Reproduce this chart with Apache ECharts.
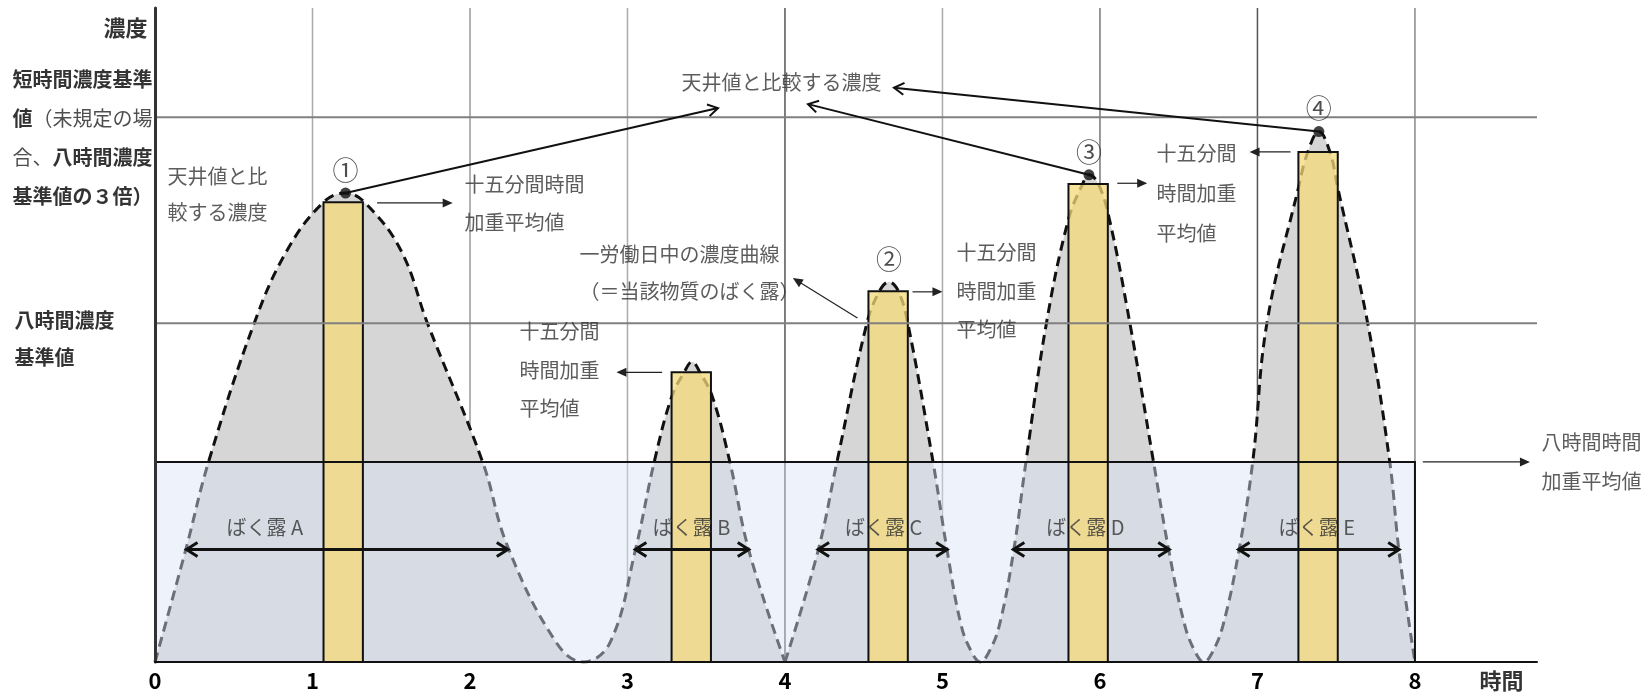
<!DOCTYPE html>
<html>
<head>
<meta charset="utf-8">
<script src="https://cdn.jsdelivr.net/npm/echarts@6/dist/echarts.min.js"></script>
<style>
  html, body { margin: 0; background: #fff; }
  #chart { width: 1651px; height: 694px; }
</style>
</head>
<body>
<div id="chart"></div>
<script>
const FONT = '"Noto Sans CJK JP", "Noto Sans", sans-serif';

// 時間軸（時間）
const hourMax = 8;
const axisEnd = 8.775;
const gridHours = [1, 2, 3, 4, 5, 6, 7, 8];

// 一労働日中の濃度曲線（縦は 0-100 の相対値、図から読み取り）
const curveX = [0, 0.20, 0.34, 0.63, 0.84, 1.07, 1.21, 1.33, 1.56, 1.73,
  2.08, 2.24, 2.55, 2.72, 2.89, 3.05, 3.17, 3.28, 3.36, 3.41,
  3.46, 3.54, 3.65, 3.77, 4.00, 4.21, 4.33, 4.52, 4.60, 4.66,
  4.72, 4.78, 4.94, 5.03, 5.12, 5.19, 5.24, 5.29, 5.36, 5.45,
  5.53, 5.66, 5.80, 5.89, 5.93, 5.99, 6.06, 6.19, 6.34, 6.44,
  6.54, 6.61, 6.66, 6.71, 6.78, 6.88, 6.97, 7.06, 7.26, 7.32,
  7.39, 7.46, 7.51, 7.70, 7.84, 7.90, 8.00];
const curveY = [0, 17.6, 30.6, 51.8, 63, 70.3, 71.7, 70.3, 63, 51.8,
  30.6, 17.6, 2.9, 0, 3, 17.1, 30.6, 40.5, 44.3, 45.9,
  44.3, 40.5, 30.6, 17.1, 0, 17, 30.6, 51.8, 56.7, 58.1,
  56.7, 51.8, 30.6, 17, 5.5, 1.3, 0, 1.3, 5.5, 16.7,
  30.6, 51.8, 67.7, 73.1, 74.5, 73.1, 67.7, 51.8, 30.6, 16.7,
  5.5, 1.3, 0, 1.3, 5.5, 16.7, 30.6, 51.8, 72.5, 78.0,
  81.1, 78.0, 72.5, 51.8, 30.6, 16.7, 0];

// 十五分間時間加重平均値
const barStart = [1.07, 3.28, 4.53, 5.80, 7.26];
const barTop = [70.3, 44.3, 56.7, 73.1, 78.0];
const barSpan = 0.25;

// 基準値・八時間時間加重平均値
const twa8h = 30.6;
const limit8h = 51.8;
const limitShort = 83.3;

// ピーク
const peakX = [1.21, 4.66, 5.93, 7.39];
const peakY = [71.7, 58.1, 74.5, 81.1];
const peakTag = ['①', '②', '③', '④'];
const peakDot = [true, false, true, true];

// ばく露
const exposureName = ['ばく露 A', 'ばく露 B', 'ばく露 C', 'ばく露 D', 'ばく露 E'];
const exposureFrom = [0.20, 3.05, 4.21, 5.45, 6.88];
const exposureTo = [2.24, 3.77, 5.03, 6.44, 7.90];
const exposureLabelX = [0.70, 3.41, 4.63, 5.91, 7.38];
const exposureLevel = 17.2;

// 注記の矢印（始点 x, y → 終点 x, y）
const noteArrows = [
  [1.41, 70.2, 1.89, 70.2],
  [3.22, 44.3, 2.93, 44.3],
  [4.46, 52.6, 4.05, 58.7],
  [4.81, 56.6, 5.00, 56.6],
  [6.11, 73.2, 6.30, 73.2],
  [7.21, 78.0, 6.95, 78.0],
  [8.05, 30.6, 8.73, 30.6]
];
const ceilingHeads = [[3.575, 84.7], [4.146, 85.3], [4.692, 87.8]];

const chart = echarts.init(document.getElementById('chart'));

const points = curveX.map((x, i) => [x, curveY[i]]);
const split = curveX.indexOf(4);
const curveParts = [points.slice(0, split + 1), points.slice(split)];

function headPoints(tip, from, len, half) {
  const dx = tip[0] - from[0], dy = tip[1] - from[1];
  const d = Math.sqrt(dx * dx + dy * dy) || 1;
  const ux = dx / d, uy = dy / d;
  const bx = tip[0] - ux * len, by = tip[1] - uy * len;
  return {
    wings: [[bx - uy * half, by + ux * half], tip, [bx + uy * half, by - ux * half]],
    back: [tip[0] - ux * len * 0.8, tip[1] - uy * len * 0.8]
  };
}

function arrowSeries(segs, opt) {
  return {
    type: 'custom',
    z: opt.z,
    silent: true,
    clip: false,
    data: segs,
    renderItem: (params, api) => {
      const a = api.coord([api.value(0), api.value(1)]);
      const b = api.coord([api.value(2), api.value(3)]);
      const children = [];
      let s = a, e = b;
      const ends = opt.both ? [[b, a, 'e'], [a, b, 's']] : [[b, a, 'e']];
      ends.forEach(([tip, from, which]) => {
        const h = headPoints(tip, from, opt.len, opt.half);
        if (opt.fill) {
          children.push({ type: 'polygon', shape: { points: h.wings }, style: { fill: opt.color } });
          if (which === 'e') e = h.back; else s = h.back;
        } else {
          children.push({
            type: 'polyline', shape: { points: h.wings },
            style: { stroke: opt.color, lineWidth: opt.width, fill: null, lineJoin: 'miter' }
          });
        }
      });
      children.unshift({
        type: 'line', shape: { x1: s[0], y1: s[1], x2: e[0], y2: e[1] },
        style: { stroke: opt.color, lineWidth: opt.width }
      });
      return { type: 'group', children };
    }
  };
}

const gridColors = ['#aaa', '#999', '#aaa', '#555', '#aaa', '#777', '#555', '#888'];

const textBase = { fontFamily: FONT, fontSize: 20, color: '#333' };

function note(text, x, y, lh, extra) {
  return {
    name: text,
    value: [x, y],
    label: Object.assign({
      position: [0, 0], align: 'left', verticalAlign: 'top', lineHeight: lh
    }, textBase, extra || {})
  };
}

const notes = [
  note('天井値と比\n較する濃度', 0.083, 76.9, 36),
  note('十五分間時間\n加重平均値', 1.968, 75.8, 38),
  note('天井値と比較する濃度', 3.346, 91.4, 38),
  note('一労働日中の濃度曲線\n（＝当該物質のばく露）', 2.698, 65.06, 37),
  note('十五分間\n時間加重\n平均値', 2.317, 53.36, 38.5),
  note('十五分間\n時間加重\n平均値', 5.092, 65.44, 38.5),
  note('十五分間\n時間加重\n平均値', 6.362, 80.7, 40),
  note('八時間時間\n加重平均値', 8.806, 36.5, 39),
  note('{b|短時間濃度基準}\n{b|値}{n|（未規定の場}\n{n|合、}{b|八時間濃度}\n{b|基準値の３倍）}',
    -0.902, 91.97, 39),
  note('八時間濃度\n基準値', -0.889, 55.05, 37, { fontWeight: 'bold', color: '#000' }),
  note('濃度', -0.044, 96.9, 26, { align: 'right', verticalAlign: 'middle', fontWeight: 'bold', fontSize: 22, color: '#000' }),
  note('時間', 8.552, -2.9, 26, { align: 'center', verticalAlign: 'middle', fontWeight: 'bold', fontSize: 22, color: '#000' })
];
exposureName.forEach((n, i) => {
  notes.push(note(n, exposureLabelX[i], exposureLevel + 3.3, 24, { align: 'center', verticalAlign: 'middle' }));
});

const option = {
  animation: false,
  textStyle: { fontFamily: FONT },
  grid: { left: 155, right: 114, top: 8, bottom: 32, containLabel: false, outerBoundsMode: 'none' },
  xAxis: {
    type: 'value', min: 0, max: axisEnd, interval: 1, z: 10,
    axisLine: { show: true, lineStyle: { color: '#111', width: 2 } },
    axisTick: { show: false },
    splitLine: { show: false },
    axisLabel: {
      margin: 8, fontSize: 22, fontWeight: 'bold', color: '#000', fontFamily: FONT,
      formatter: v => (Number.isInteger(v) && v <= hourMax ? String(v) : '')
    }
  },
  yAxis: {
    type: 'value', min: 0, max: 100, z: 10,
    axisLine: { show: true, lineStyle: { color: '#333', width: 3 } },
    axisTick: { show: false },
    axisLabel: { show: false },
    splitLine: { show: false }
  },
  series: [
    {
      type: 'custom', z: 1, silent: true,
      data: gridHours,
      renderItem: (params, api) => {
        const top = api.coord([api.value(0), 100]);
        const bot = api.coord([api.value(0), 0]);
        return {
          type: 'line', shape: { x1: top[0], y1: top[1], x2: bot[0], y2: bot[1] },
          style: { stroke: gridColors[params.dataIndex], lineWidth: 1.5 }
        };
      }
    },
    ...curveParts.map(part => ({
      type: 'line', z: 2, silent: true,
      data: part, smooth: 0.4, symbol: 'none',
      lineStyle: { color: '#111', width: 3, type: [10, 6] },
      areaStyle: { color: '#d6d6d6', opacity: 1 }
    })),
    {
      type: 'custom', z: 3, silent: true,
      data: [[0, hourMax, twa8h]],
      renderItem: (params, api) => {
        const p0 = api.coord([api.value(0), api.value(2)]);
        const p1 = api.coord([api.value(1), 0]);
        return {
          type: 'rect', shape: { x: p0[0], y: p0[1], width: p1[0] - p0[0], height: p1[1] - p0[1] },
          style: { fill: 'rgba(218,227,244,0.45)' }
        };
      }
    },
    {
      type: 'custom', z: 4, silent: true,
      data: barStart.map((x, i) => [x, barTop[i]]),
      renderItem: (params, api) => {
        const p0 = api.coord([api.value(0), api.value(1)]);
        const p1 = api.coord([api.value(0) + barSpan, 0]);
        return {
          type: 'rect', shape: { x: p0[0], y: p0[1], width: p1[0] - p0[0], height: p1[1] - p0[1] },
          style: { fill: 'rgba(246,218,120,0.75)', stroke: '#111', lineWidth: 2 }
        };
      }
    },
    {
      type: 'custom', z: 5, silent: true,
      data: [[0, hourMax, twa8h]],
      renderItem: (params, api) => {
        const p0 = api.coord([api.value(0), api.value(2)]);
        const p1 = api.coord([api.value(1), 0]);
        return {
          type: 'rect', shape: { x: p0[0], y: p0[1], width: p1[0] - p0[0], height: p1[1] - p0[1] },
          style: { fill: null, stroke: '#111', lineWidth: 2 }
        };
      }
    },
    {
      type: 'custom', z: 6, silent: true,
      data: [limitShort, limit8h],
      renderItem: (params, api) => {
        const a = api.coord([0, api.value(0)]);
        const b = api.coord([axisEnd, api.value(0)]);
        return {
          type: 'line', shape: { x1: a[0], y1: a[1], x2: b[0], y2: b[1] },
          style: { stroke: '#808080', lineWidth: 2 }
        };
      }
    },
    arrowSeries(exposureFrom.map((x, i) => [x, exposureLevel, exposureTo[i], exposureLevel]),
      { z: 7, both: true, fill: false, len: 11, half: 7, width: 3, color: '#111' }),
    arrowSeries(noteArrows, { z: 7, fill: true, len: 10, half: 4.5, width: 1.2, color: '#222' }),
    arrowSeries(peakX.map((x, i) => [x, peakY[i]]).filter((p, i) => peakDot[i])
      .map((p, k) => [p[0], p[1], ceilingHeads[k][0], ceilingHeads[k][1]]),
      { z: 7, fill: false, len: 10, half: 6, width: 2, color: '#111' }),
    {
      type: 'scatter', z: 8, silent: true,
      data: peakX.map((x, i) => [x, peakY[i]]).filter((p, i) => peakDot[i]),
      symbolSize: 11, itemStyle: { color: '#111' }
    },
    {
      type: 'scatter', z: 8, silent: true,
      data: peakX.map((x, i) => ({ name: peakTag[i], value: [x, peakY[i]] })),
      symbolSize: 10, itemStyle: { color: 'transparent' },
      label: {
        show: true, position: 'top', distance: 5, formatter: '{b}',
        fontFamily: FONT, fontSize: 26, color: '#222'
      }
    },
    {
      type: 'scatter', z: 9, silent: true, clip: false,
      data: notes,
      symbolSize: 1, itemStyle: { color: 'transparent' },
      label: {
        show: true, formatter: p => p.name,
        rich: {
          b: { fontFamily: FONT, fontSize: 20, fontWeight: 'bold', color: '#000', lineHeight: 39 },
          n: { fontFamily: FONT, fontSize: 20, fontWeight: 'normal', color: '#222', lineHeight: 39 }
        }
      }
    }
  ]
};

chart.setOption(option);
</script>
</body>
</html>
